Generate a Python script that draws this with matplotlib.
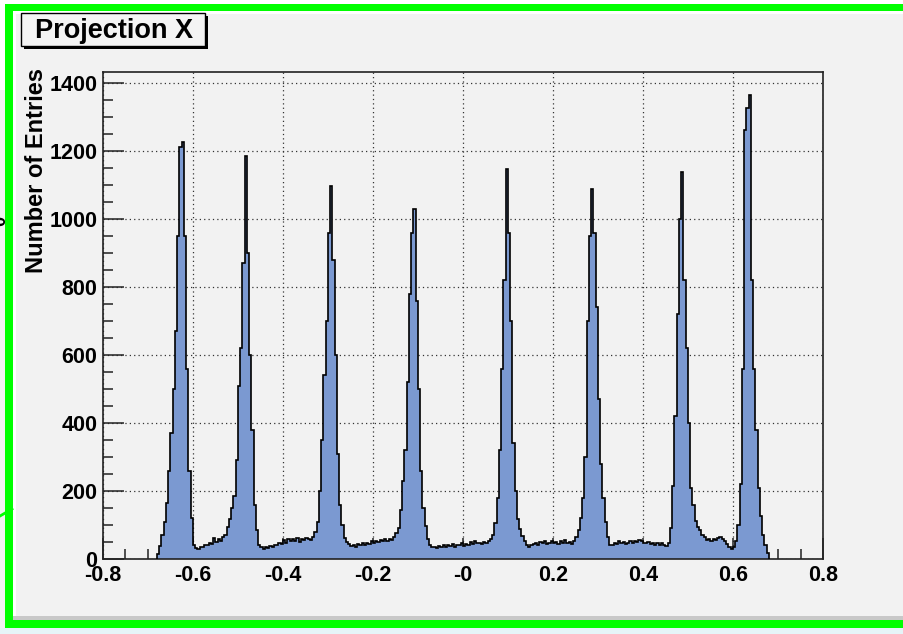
import numpy as np
import matplotlib
matplotlib.use('Agg')
import matplotlib.pyplot as plt
from matplotlib.patches import Rectangle
from matplotlib.lines import Line2D

# Projection X histogram: 0.005 wide bins starting at x = -0.68
x_start = -0.68
bin_width = 0.005

# counts, one list per peak together with the valley after it
peak1_counts = [15, 38, 70, 110, 165, 260, 370, 500, 670, 950, 1210, 1225, 950, 560, 260, 120, 40, 32,
                30, 36, 34, 40, 42, 48, 45, 62, 50, 58, 52, 66, 72, 95]
peak2_counts = [118, 150, 185, 290, 510, 620, 870, 1185, 900, 600, 380, 160, 85, 42,
                34, 30, 36, 32, 38, 35, 42, 40, 46, 44, 55, 48, 58, 52, 60, 54, 62, 50, 58, 55, 63, 58, 56, 64]
peak3_counts = [80, 110, 200, 350, 540, 700, 960, 1098, 880, 600, 310, 160, 100, 62, 50,
                44, 38, 42, 36, 44, 40, 46, 42, 48, 45, 52, 46, 54, 50, 56, 52, 58, 54, 60, 57, 66]
peak4_counts = [76, 92, 145, 230, 320, 520, 780, 960, 1030, 760, 500, 260, 150, 96, 58, 40,
                34, 36, 32, 38, 34, 40, 36, 42, 38, 44, 36, 42, 40, 46, 38, 45, 42, 50, 44, 52,
                46, 48, 44, 50, 47, 52, 58]
peak5_counts = [72, 105, 180, 320, 560, 820, 1147, 960, 700, 340, 200, 118, 88, 68, 52, 42, 36,
                40, 44, 48, 42, 50, 46, 52, 44, 48, 54, 46, 50, 44, 52, 48, 55, 46, 50, 44, 52]
peak6_counts = [64, 85, 120, 180, 300, 700, 950, 1088, 960, 740, 470, 280, 180, 110, 64, 40,
                42, 48, 44, 52, 46, 50, 44, 48, 52, 46, 54, 50, 56, 52, 48, 46, 50, 44, 48, 42,
                46, 40, 48, 42, 38, 48]
peak7_counts = [90, 215, 420, 720, 1000, 1138, 820, 620, 400, 210, 160, 112, 95, 84, 70, 64,
                56, 58, 54, 60, 56, 62, 66, 58, 52, 44, 36, 30, 34]
peak8_counts = [52, 100, 220, 560, 1260, 1325, 1365, 820, 560, 380, 210, 125, 72, 40, 18]

x_ticks = [-0.8, -0.6, -0.4, -0.2, 0.0, 0.2, 0.4, 0.6, 0.8]
x_tick_labels = ['-0.8', '-0.6', '-0.4', '-0.2', '-0', '0.2', '0.4', '0.6', '0.8']
y_ticks = [0, 200, 400, 600, 800, 1000, 1200, 1400]
y_tick_labels = ['0', '200', '400', '600', '800', '1000', '1200', '1400']

counts = np.array(peak1_counts + peak2_counts + peak3_counts + peak4_counts +
                  peak5_counts + peak6_counts + peak7_counts + peak8_counts, dtype=float)
edges = x_start + bin_width * np.arange(len(counts) + 1)

plt.rcParams['font.family'] = ['Liberation Sans', 'DejaVu Sans']

W, H = 904, 634
fig = plt.figure(figsize=(W / 100, H / 100), dpi=100, facecolor='#f2f2f2')


def fx(px):
    return px / W


def fy(py):
    return 1 - py / H


def frect(x0, y0, x1, y1, **kw):
    # rectangle given in pixel corners (top-left origin)
    fig.add_artist(Rectangle((fx(x0), fy(y1)), fx(x1) - fx(x0), fy(y0) - fy(y1),
                             transform=fig.transFigure, **kw))


# canvas border decoration
frect(0, 0, W, 4, color='white', lw=0)
frect(0, 0, 5, 90, color='white', lw=0)
frect(0, 628, W, H, color='#e6f4f8', lw=0)
frect(13, 11, W, 14, color='white', lw=0)
frect(13, 11, 16, 618, color='white', lw=0)
frect(13, 616, W, 620, color='#c8c8c8', lw=0)
frect(5, 4, W, 11, color='#00ff00', lw=0)
frect(5, 4, 13, 628, color='#00ff00', lw=0)
frect(5, 620, W, 628, color='#00ff00', lw=0)
fig.add_artist(Line2D([fx(0), fx(12)], [fy(516), fy(509)], color='#00ff00', lw=2,
                      transform=fig.transFigure))
fig.text(fx(1), fy(221), '0', rotation=90, ha='center', va='center',
         fontsize=13, fontweight='bold')

ax = fig.add_axes([fx(103), fy(559), fx(823) - fx(103), fy(72) - fy(559)])
ax.set_facecolor('#f2f2f2')

ax.stairs(counts, edges, fill=True, color='#7b99d1', zorder=2)
ax.stairs(counts, edges, color='black', lw=1.2, zorder=3)

ax.set_xlim(-0.8, 0.8)
ax.set_ylim(0, 1432)
ax.set_xticks(x_ticks)
ax.set_xticklabels(x_tick_labels, fontweight='bold')
ax.set_yticks(y_ticks)
ax.set_yticklabels(y_tick_labels, fontweight='bold')
ax.set_xticks(np.arange(-0.8, 0.801, 0.05), minor=True)
ax.set_yticks(np.arange(0, 1431, 50), minor=True)

ax.tick_params(which='both', direction='in', top=False, right=False,
               color='#222222', width=1.1, labelsize=15.5)
ax.tick_params(which='major', length=15)
ax.tick_params(which='minor', length=7)
ax.tick_params(axis='x', pad=4)
ax.tick_params(axis='y', pad=4)

ax.set_axisbelow(True)
ax.grid(True, which='major', linestyle=(0, (1, 2.5)), color='#333333', lw=0.9)
for side in ax.spines.values():
    side.set_color('#222222')
    side.set_linewidth(1.2)

fig.text(fx(37), fy(68), 'Number of Entries', rotation=90, ha='center', va='top',
         fontsize=17, fontweight='bold')

# title box with drop shadow
frect(24, 16, 208, 49, facecolor='black', lw=0)
frect(21, 13, 205, 46, facecolor='#f4f4f4', edgecolor='black', lw=1.0)
fig.text(fx(35), fy(31), 'Projection X', ha='left', va='center',
         fontsize=19.5, fontweight='bold')

fig.savefig('out.png', dpi=100, facecolor=fig.get_facecolor())
